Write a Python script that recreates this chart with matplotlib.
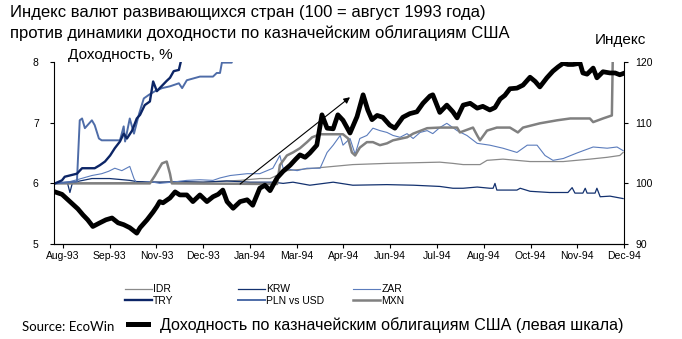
import matplotlib
matplotlib.use('Agg')
import matplotlib.pyplot as plt
from matplotlib.lines import Line2D

plt.rcParams['font.family'] = ['Liberation Sans', 'DejaVu Sans']

# x is measured in tick intervals: 0 = Aug-93 ... 12 = Dec-94
tick_labels = ['Aug-93', 'Sep-93', 'Nov-93', 'Dec-93', 'Jan-94', 'Mar-94', 'Apr-94',
               'Jun-94', 'Jul-94', 'Aug-94', 'Oct-94', 'Nov-94', 'Dec-94']

# US treasury yield, % (left scale)
ust_x = [-0.17, -0.02, 0.15, 0.32, 0.43, 0.53, 0.64, 0.79, 0.92, 1.05, 1.18, 1.30, 1.43,
         1.58, 1.65, 1.80, 1.93, 2.01, 2.07, 2.14, 2.29, 2.40, 2.50, 2.65, 2.78, 2.93,
         3.08, 3.21, 3.32, 3.42, 3.51, 3.64, 3.79, 3.94, 4.06, 4.21, 4.32, 4.43, 4.58,
         4.71, 4.86, 4.98, 5.07, 5.18, 5.28, 5.43, 5.54, 5.65, 5.78, 5.88, 5.99, 6.14,
         6.29, 6.42, 6.52, 6.61, 6.72, 6.84, 6.99, 7.10, 7.27, 7.42, 7.57, 7.70, 7.85,
         7.91, 8.06, 8.21, 8.34, 8.43, 8.56, 8.71, 8.86, 8.98, 9.13, 9.24, 9.35, 9.45,
         9.56, 9.71, 9.84, 9.99, 10.10, 10.20, 10.35, 10.48, 10.59, 10.70, 10.80, 10.91,
         11.06, 11.12, 11.21, 11.34, 11.42, 11.55, 11.70, 11.81, 11.91, 11.98]
ust_y = [5.86, 5.82, 5.70, 5.58, 5.48, 5.40, 5.29, 5.35, 5.40, 5.43, 5.35, 5.32, 5.27,
         5.18, 5.27, 5.40, 5.53, 5.62, 5.70, 5.68, 5.76, 5.86, 5.81, 5.81, 5.70, 5.81,
         5.70, 5.78, 5.82, 5.89, 5.70, 5.59, 5.70, 5.73, 5.64, 5.92, 5.97, 5.88, 6.09,
         6.20, 6.30, 6.40, 6.47, 6.43, 6.50, 6.63, 7.13, 6.91, 6.90, 7.13, 7.04, 6.83,
         7.10, 7.46, 7.21, 7.05, 7.12, 7.09, 6.96, 6.91, 7.09, 7.15, 7.18, 7.32, 7.44,
         7.46, 7.17, 7.29, 7.18, 7.08, 7.29, 7.32, 7.24, 7.27, 7.21, 7.25, 7.39, 7.45,
         7.56, 7.57, 7.62, 7.75, 7.68, 7.59, 7.74, 7.85, 7.92, 7.98, 7.96, 7.96,
         7.98, 7.82, 7.80, 7.90, 7.74, 7.84, 7.82, 7.82, 7.79, 7.81]

# currency indices, 100 = August 1993 (right scale)
idr_x = [-0.17, 1.0, 2.0, 3.0, 3.79, 4.21, 4.43, 4.79, 5.50, 6.20, 6.93, 8.06, 8.34, 8.56,
         8.92, 9.07, 9.41, 9.99, 10.70, 11.27, 11.64, 11.91, 11.98]
idr_y = [100.0, 100.1, 100.2, 100.2, 100.5, 100.8, 100.8, 102.1, 102.6, 103.1, 103.3, 103.5,
         103.3, 103.1, 103.1, 103.8, 104.0, 103.6, 103.6, 104.0, 104.3, 104.6, 105.1]

krw_x = [-0.17, 0.10, 0.15, 0.20, 0.30, 0.62, 1.0, 1.43, 1.58, 2.07, 2.5, 3.0, 3.5, 4.0,
         4.5, 4.71, 4.92, 5.28, 5.78, 6.20, 6.93, 7.5, 8.06, 8.34, 8.56, 8.86, 9.13, 9.20,
         9.24, 9.28, 9.71, 9.78, 9.99, 10.41, 10.80, 10.89, 10.95, 11.12, 11.17, 11.21,
         11.38, 11.42, 11.49, 11.70, 11.98]
krw_y = [100.0, 100.0, 98.5, 100.0, 100.3, 100.8, 100.8, 100.5, 100.3, 100.2, 100.3, 100.2,
         100.4, 100.2, 100.2, 100.0, 100.2, 99.7, 100.2, 99.7, 99.8, 99.7, 99.5, 99.2,
         99.2, 99.4, 99.2, 99.2, 100.0, 98.9, 98.9, 99.2, 98.7, 98.5, 98.5, 99.3, 98.4,
         98.4, 99.2, 98.4, 98.4, 99.2, 97.8, 97.9, 97.5]

zar_x = [-0.17, 0.15, 0.30, 0.62, 0.83, 0.98, 1.11, 1.26, 1.43, 1.52, 1.58, 1.86, 2.07,
         2.33, 2.65, 2.93, 3.21, 3.36, 3.58, 3.94, 4.21, 4.49, 4.64, 4.71, 5.01, 5.22,
         5.50, 5.65, 5.78, 5.93, 5.99, 6.14, 6.25, 6.35, 6.50, 6.63, 6.78, 6.93, 7.06,
         7.21, 7.36, 7.49, 7.64, 7.79, 7.91, 8.06, 8.21, 8.43, 8.64, 8.86, 9.13, 9.41,
         9.71, 9.93, 10.14, 10.31, 10.48, 10.70, 10.99, 11.34, 11.64, 11.85, 11.98]
zar_y = [100.0, 100.3, 100.6, 101.3, 101.6, 102.0, 102.5, 102.1, 102.8, 100.8, 100.0, 100.3,
         100.0, 100.2, 100.5, 100.6, 100.5, 100.9, 101.3, 101.6, 101.6, 102.5, 104.6, 102.5,
         102.1, 102.5, 102.5, 105.1, 106.3, 107.9, 106.3, 107.4, 104.8, 107.4, 107.9, 109.1,
         108.7, 108.4, 107.9, 107.6, 108.2, 107.4, 108.4, 108.7, 108.2, 109.2, 109.9, 108.7,
         107.9, 106.6, 106.3, 105.8, 105.1, 106.3, 106.3, 104.6, 103.8, 104.1, 105.0, 106.0,
         105.8, 106.0, 105.4]

try_x = [-0.17, -0.02, 0.04, 0.30, 0.41, 0.68, 0.79, 0.90, 1.01, 1.11, 1.22, 1.30, 1.37,
         1.48, 1.58, 1.65, 1.75, 1.86, 1.93, 2.01, 2.07, 2.22, 2.29, 2.37, 2.48, 2.55]
try_y = [100.0, 100.5, 101.1, 101.6, 102.5, 102.5, 103.0, 103.6, 104.6, 105.8, 106.9, 108.2,
         107.4, 108.7, 110.7, 111.3, 112.9, 113.5, 116.8, 115.2, 115.7, 116.9, 117.4, 118.5,
         118.7, 121.0]

pln_x = [-0.17, 0.30, 0.36, 0.41, 0.47, 0.62, 0.68, 0.77, 0.83, 1.22, 1.30, 1.33, 1.43,
         1.52, 1.63, 1.73, 1.84, 1.97, 2.12, 2.29, 2.48, 2.55, 2.65, 2.93, 3.21, 3.29,
         3.36, 3.40, 3.61, 3.64]
pln_y = [100.0, 100.3, 110.4, 110.7, 109.1, 110.4, 109.6, 107.4, 107.1, 107.1, 109.4, 106.9,
         110.7, 108.2, 111.5, 114.0, 114.6, 115.2, 115.7, 116.0, 116.5, 115.7, 117.0, 117.6,
         117.6, 118.2, 118.2, 119.9, 119.9, 121.0]

mxn_x = [-0.17, 1.86, 1.97, 2.12, 2.22, 2.29, 2.33, 4.58, 4.64, 4.79, 4.92, 5.07, 5.22,
         5.33, 5.50, 5.99, 6.10, 6.18, 6.25, 6.35, 6.50, 6.63, 6.78, 6.93, 7.06, 7.36,
         7.49, 7.79, 8.06, 8.43, 8.49, 8.77, 8.86, 8.92, 9.07, 9.28, 9.56, 9.73, 9.84,
         10.20, 10.57, 10.85, 11.27, 11.34, 11.55, 11.74, 11.76, 12.0]
mxn_y = [100.0, 100.0, 101.3, 103.3, 103.6, 101.6, 100.0, 99.9, 103.0, 104.6, 105.1, 105.8,
         106.8, 107.6, 108.1, 108.1, 107.4, 105.1, 104.6, 105.9, 106.8, 106.8, 106.3, 106.6,
         107.1, 107.6, 108.2, 109.1, 109.2, 109.2, 108.4, 109.2, 107.9, 107.1, 108.7, 109.2,
         109.2, 108.4, 109.2, 109.9, 110.4, 110.7, 110.7, 110.1, 110.7, 111.2, 121.0, 121.0]

fig = plt.figure(figsize=(6.82, 3.39), dpi=100)
ax = fig.add_axes([0.0792, 0.280, 0.8358, 0.537])
ax2 = ax.twinx()

# yield on top of the currency lines
ax.set_zorder(ax2.get_zorder() + 1)
ax.patch.set_visible(False)

l_idr, = ax2.plot(idr_x, idr_y, color='#8a8a8a', lw=0.9)
l_krw, = ax2.plot(krw_x, krw_y, color='#13316f', lw=0.9)
l_zar, = ax2.plot(zar_x, zar_y, color='#5b7cbc', lw=0.8)
l_mxn, = ax2.plot(mxn_x, mxn_y, color='#808080', lw=1.8)
l_pln, = ax2.plot(pln_x, pln_y, color='#4e6ca8', lw=1.4)
l_try, = ax2.plot(try_x, try_y, color='#0c2566', lw=1.7)
l_ust, = ax.plot(ust_x, ust_y, color='black', lw=3.4, solid_joinstyle='round')

ax.annotate('', xy=(6.14, 7.42), xytext=(3.79, 5.99),
            arrowprops=dict(arrowstyle='-|>', color='black', lw=0.8,
                            mutation_scale=9, shrinkA=0, shrinkB=0))

ax.set_xlim(-0.19, 12)
ax.set_ylim(5, 8)
ax2.set_ylim(90, 120)
ax.set_yticks([5, 6, 7, 8])
ax2.set_yticks([90, 100, 110, 120])
ax.set_xticks(range(len(tick_labels)))
ax.set_xticklabels(tick_labels)

for a in (ax, ax2):
    a.spines['top'].set_visible(False)
    for s in a.spines.values():
        s.set_linewidth(0.8)
    a.tick_params(direction='out', length=3, width=0.8, labelsize=7.5, pad=2)
ax.spines['right'].set_visible(False)
ax2.spines['left'].set_visible(False)
ax.tick_params(axis='y', pad=8)
ax2.tick_params(axis='y', pad=5)

fig.text(0.0147, 0.963, 'Индекс валют развивающихся стран (100 = август 1993 года)',
         fontsize=12, va='center', ha='left')
fig.text(0.0147, 0.901, 'против динамики доходности по казначейским облигациям США',
         fontsize=12, va='center', ha='left')
fig.text(0.177, 0.838, 'Доходность, %', fontsize=11, va='center', ha='center')
fig.text(0.909, 0.882, 'Индекс', fontsize=11, va='center', ha='center')

leg_kw = dict(frameon=False, fontsize=7.5, handlelength=2.6, handletextpad=0.1,
              borderpad=0, borderaxespad=0, labelspacing=0.15, loc='upper left')
fig.legend([l_idr, l_try], ['IDR', 'TRY'], bbox_to_anchor=(0.183, 0.161), **leg_kw)
fig.legend([l_krw, l_pln], ['KRW', 'PLN vs USD'], bbox_to_anchor=(0.349, 0.161), **leg_kw)
fig.legend([l_zar, l_mxn], ['ZAR', 'MXN'], bbox_to_anchor=(0.518, 0.161), **leg_kw)

ust_handle = Line2D([], [], color='black', lw=3.6)
fig.legend([ust_handle], ['Доходность по казначейским облигациям США (левая шкала)'],
           bbox_to_anchor=(0.188, 0.041), loc='center left', frameon=False, fontsize=11.6,
           handlelength=1.25, handletextpad=0.75, borderpad=0, borderaxespad=0)
fig.text(0.032, 0.036, 'Source: EcoWin', fontsize=9.5, va='center', ha='left',
         family=['Lato', 'DejaVu Sans'])

fig.savefig('out.png', dpi=100)
